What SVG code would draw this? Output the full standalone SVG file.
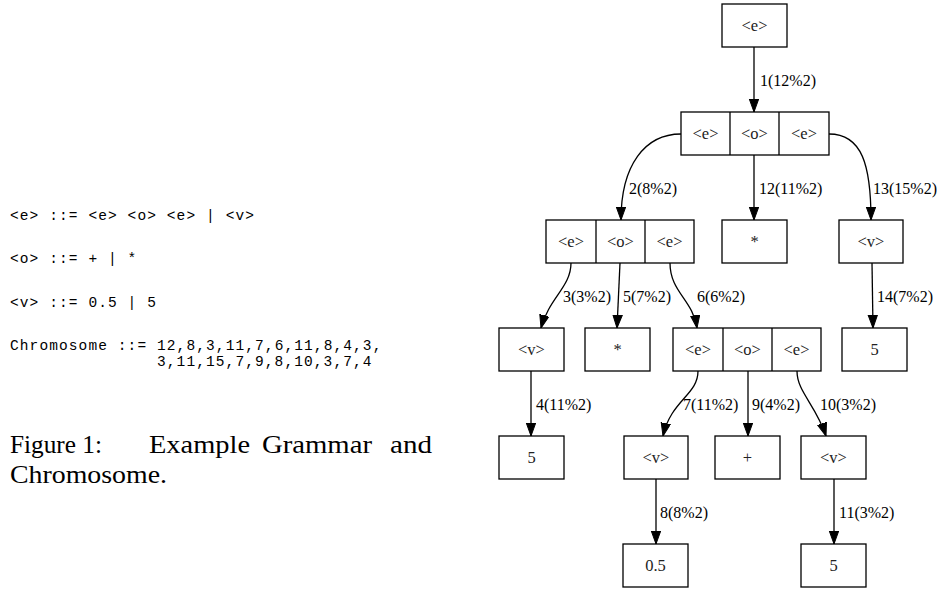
<svg xmlns="http://www.w3.org/2000/svg" width="944" height="592" viewBox="0 0 944 592">
<style>
.box{fill:#fff;stroke:#000;stroke-width:1.3}
.nt{font-family:"Liberation Serif","Times New Roman",serif;font-size:16.5px;text-anchor:middle;fill:#222}
.lb{font-family:"Liberation Serif","Times New Roman",serif;font-size:16px;fill:#000}
.edge{fill:none;stroke:#000;stroke-width:1.3;marker-end:url(#arr)}
.code{font-family:"Liberation Mono","Courier New",monospace;font-size:14.5px;letter-spacing:1.1px;fill:#000;white-space:pre}
.cap{font-family:"Liberation Serif","Times New Roman",serif;font-size:26px;fill:#000}
</style>
<defs>
<marker id="arr" markerUnits="userSpaceOnUse" markerWidth="14" markerHeight="12" viewBox="0 0 14 12" refX="13" refY="5" orient="auto">
<path d="M0,0.3 L13,5 L0,9.7 Z" fill="#000" stroke="#000" stroke-width="1"/>
</marker>
</defs>
<rect width="944" height="592" fill="#fff"/>

<g id="grammar">
<text class="code" x="10" y="220" xml:space="preserve">&lt;e&gt; ::= &lt;e&gt; &lt;o&gt; &lt;e&gt; | &lt;v&gt;</text>
<text class="code" x="10" y="263" xml:space="preserve">&lt;o&gt; ::= + | *</text>
<text class="code" x="10" y="307" xml:space="preserve">&lt;v&gt; ::= 0.5 | 5</text>
<text class="code" x="10" y="350" xml:space="preserve">Chromosome ::= 12,8,3,11,7,6,11,8,4,3,</text>
<text class="code" x="157" y="366">3,11,15,7,9,8,10,3,7,4</text>
</g>
<g id="caption">
<text class="cap" x="10" y="453" textLength="92" lengthAdjust="spacingAndGlyphs">Figure 1:</text>
<text class="cap" x="149" y="453" textLength="101" lengthAdjust="spacingAndGlyphs">Example</text>
<text class="cap" x="262" y="453" textLength="110" lengthAdjust="spacingAndGlyphs">Grammar</text>
<text class="cap" x="390" y="453" textLength="42" lengthAdjust="spacingAndGlyphs">and</text>
<text class="cap" x="10" y="483" textLength="157" lengthAdjust="spacingAndGlyphs">Chromosome.</text>
</g>

<g id="connectors">
<path class="edge" d="M754,47 L754,112"/>
<path class="edge" d="M681,134 C645,134 621,165 621,220"/>
<path class="edge" d="M754,155 L754,220"/>
<path class="edge" d="M829,134 C862,134 871,165 871,220"/>
<path class="edge" d="M872,263 L873,328"/>
<path class="edge" d="M571,263 C571,287 549,298 541,328"/>
<path class="edge" d="M620,263 L617,328"/>
<path class="edge" d="M670,263 C670,292 693,300 697,328"/>
<path class="edge" d="M531,371 L531,436"/>
<path class="edge" d="M698,371 C698,395 671,400 663,436"/>
<path class="edge" d="M748,371 L748,436"/>
<path class="edge" d="M797,371 C797,392 816,405 826,436"/>
<path class="edge" d="M656,479 L656,544"/>
<path class="edge" d="M834,479 L834,544"/>
<text class="lb" x="760" y="86">1(12%2)</text>
<text class="lb" x="629" y="194">2(8%2)</text>
<text class="lb" x="759" y="194">12(11%2)</text>
<text class="lb" x="873" y="194">13(15%2)</text>
<text class="lb" x="563" y="302">3(3%2)</text>
<text class="lb" x="623" y="302">5(7%2)</text>
<text class="lb" x="697" y="302">6(6%2)</text>
<text class="lb" x="877" y="302">14(7%2)</text>
<text class="lb" x="536" y="410">4(11%2)</text>
<text class="lb" x="683" y="410">7(11%2)</text>
<text class="lb" x="752" y="410">9(4%2)</text>
<text class="lb" x="820" y="410">10(3%2)</text>
<text class="lb" x="660" y="518">8(8%2)</text>
<text class="lb" x="839" y="518">11(3%2)</text>
</g>

<g id="n0"><rect class="box" x="722" y="4" width="65" height="43"/><text class="nt" x="754.5" y="31">&lt;e&gt;</text></g>
<g id="n1"><rect class="box" x="681" y="112" width="148" height="43"/><line x1="730" y1="112" x2="730" y2="155" stroke="#000" stroke-width="1.3"/><line x1="779" y1="112" x2="779" y2="155" stroke="#000" stroke-width="1.3"/>
<text class="nt" x="705.5" y="139">&lt;e&gt;</text><text class="nt" x="754.5" y="139">&lt;o&gt;</text><text class="nt" x="804" y="139">&lt;e&gt;</text></g>
<g id="n2"><rect class="box" x="546" y="220" width="148" height="43"/><line x1="596" y1="220" x2="596" y2="263" stroke="#000" stroke-width="1.3"/><line x1="645" y1="220" x2="645" y2="263" stroke="#000" stroke-width="1.3"/>
<text class="nt" x="571" y="247">&lt;e&gt;</text><text class="nt" x="620.5" y="247">&lt;o&gt;</text><text class="nt" x="669.5" y="247">&lt;e&gt;</text></g>
<g id="n12"><rect class="box" x="722" y="220" width="65" height="43"/><text class="nt" x="754.5" y="247">*</text></g>
<g id="n13"><rect class="box" x="839" y="220" width="64" height="43"/><text class="nt" x="871" y="247">&lt;v&gt;</text></g>
<g id="n3"><rect class="box" x="499" y="328" width="65" height="43"/><text class="nt" x="531.5" y="355">&lt;v&gt;</text></g>
<g id="n5"><rect class="box" x="585" y="328" width="65" height="43"/><text class="nt" x="617.5" y="355">*</text></g>
<g id="n6"><rect class="box" x="673" y="328" width="148" height="43"/><line x1="723" y1="328" x2="723" y2="371" stroke="#000" stroke-width="1.3"/><line x1="772" y1="328" x2="772" y2="371" stroke="#000" stroke-width="1.3"/>
<text class="nt" x="698" y="355">&lt;e&gt;</text><text class="nt" x="747.5" y="355">&lt;o&gt;</text><text class="nt" x="796.5" y="355">&lt;e&gt;</text></g>
<g id="n14"><rect class="box" x="842" y="328" width="65" height="43"/><text class="nt" x="874.5" y="355">5</text></g>
<g id="n4"><rect class="box" x="499" y="436" width="65" height="43"/><text class="nt" x="531.5" y="463">5</text></g>
<g id="n7"><rect class="box" x="624" y="436" width="64" height="43"/><text class="nt" x="656" y="463">&lt;v&gt;</text></g>
<g id="n9"><rect class="box" x="715" y="436" width="65" height="43"/><text class="nt" x="747.5" y="463">+</text></g>
<g id="n10"><rect class="box" x="801" y="436" width="65" height="43"/><text class="nt" x="833.5" y="463">&lt;v&gt;</text></g>
<g id="n8"><rect class="box" x="623" y="544" width="65" height="43"/><text class="nt" x="655.5" y="571">0.5</text></g>
<g id="n11"><rect class="box" x="801" y="544" width="65" height="43"/><text class="nt" x="833.5" y="571">5</text></g>
</svg>
